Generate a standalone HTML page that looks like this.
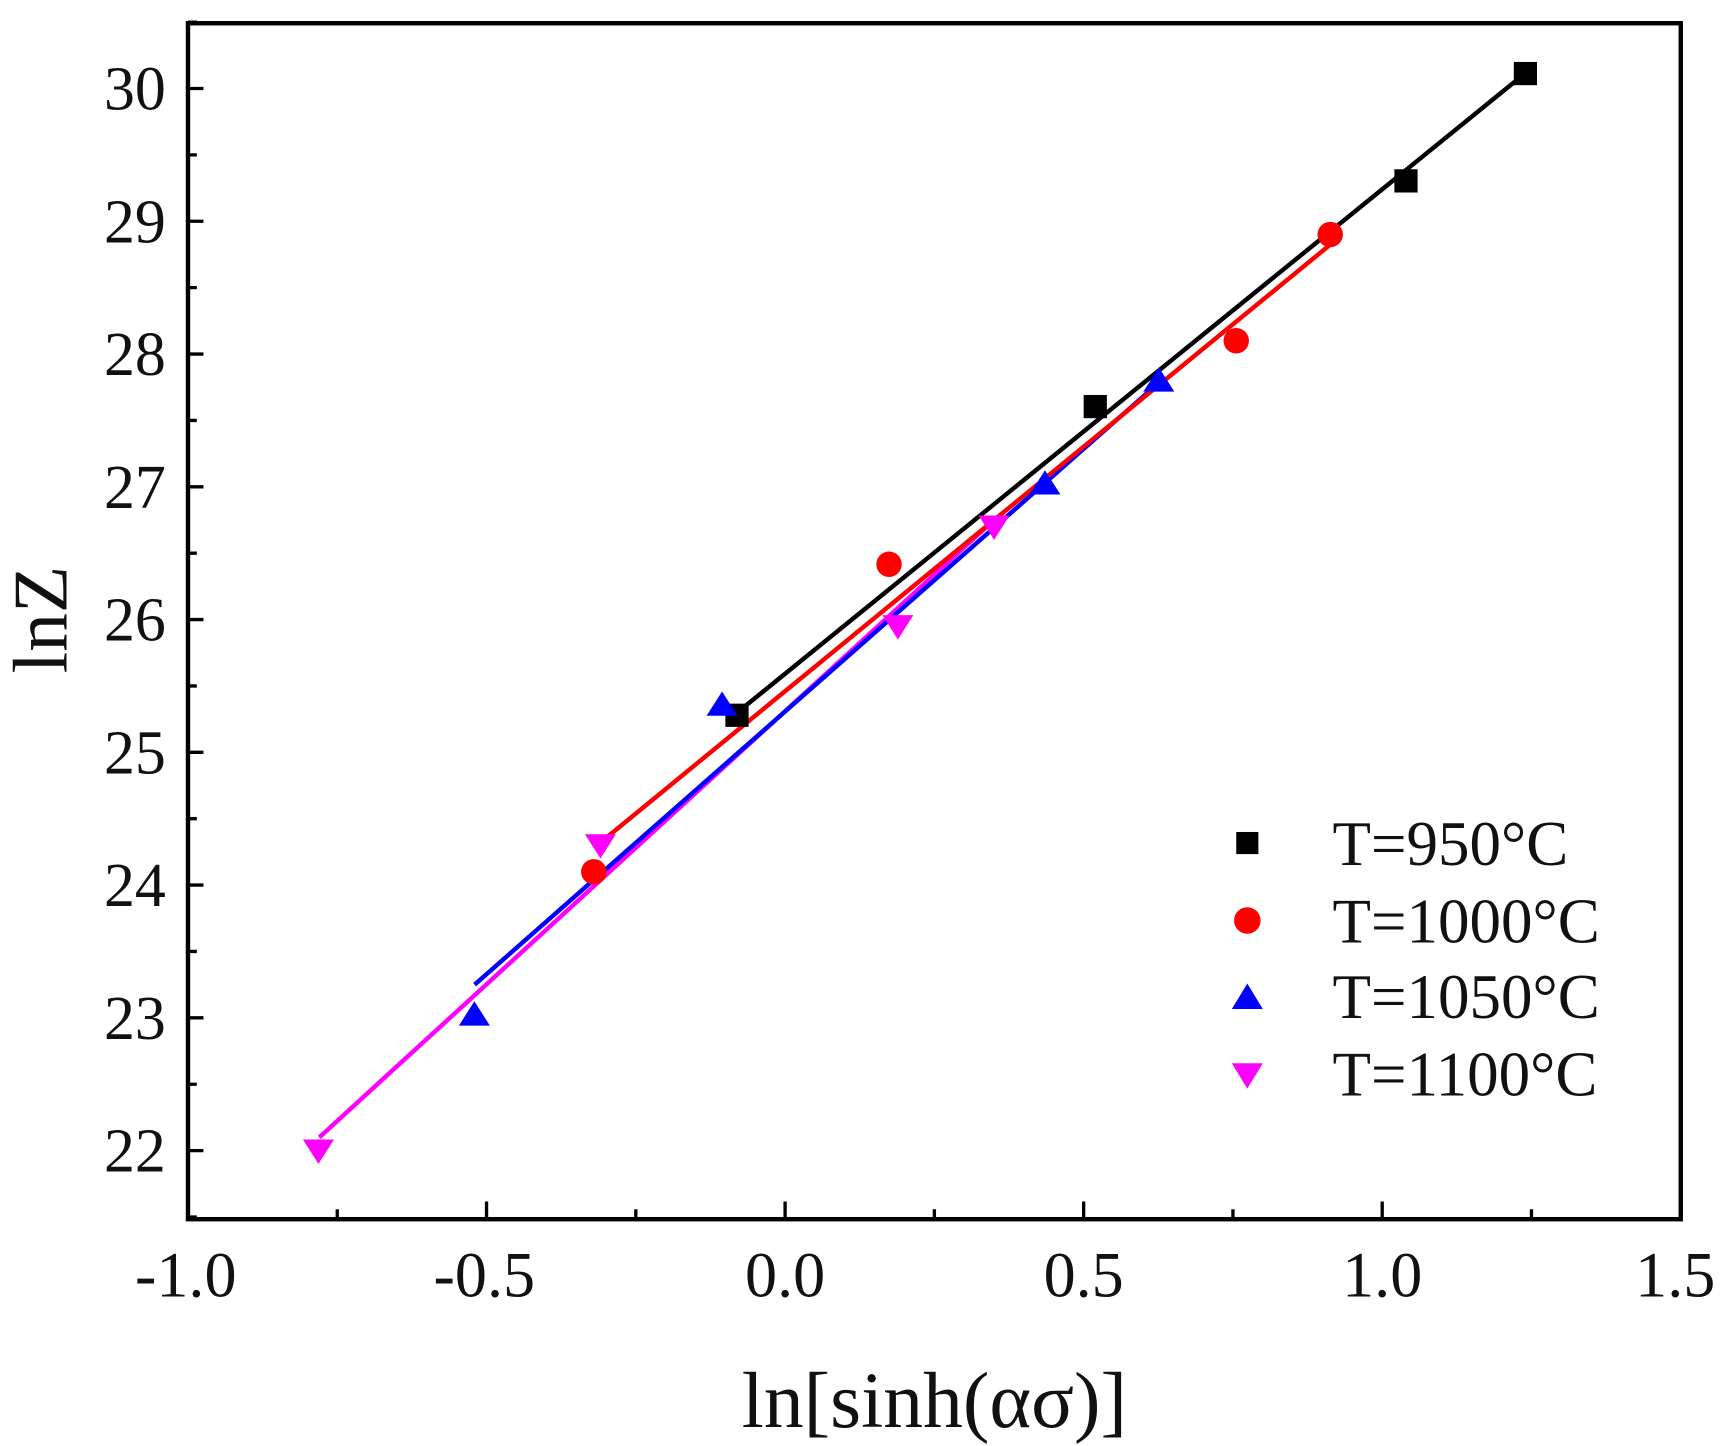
<!DOCTYPE html>
<html><head><meta charset="utf-8"><style>html,body{margin:0;padding:0;background:#fff}svg{display:block}</style></head>
<body>
<svg width="1725" height="1446" viewBox="0 0 1560 1307" preserveAspectRatio="none" xmlns="http://www.w3.org/2000/svg" font-family="'Liberation Serif', serif">
<rect width="1560" height="1307" fill="#fff"/>
<g stroke="#000" stroke-width="3">
<path d="M170 80h14M170 200h14M170 320h14M170 440h14M170 560h14M170 680h14M170 800h14M170 920h14M170 1040h14"/>
<path d="M170 140h8M170 260h8M170 380h8M170 500h8M170 620h8M170 740h8M170 860h8M170 980h8M170 1100h8M170 20h8"/>
<path d="M440 1102v-16M710 1102v-16M980 1102v-16M1250 1102v-16"/>
<path d="M305 1102v-9M575 1102v-9M845 1102v-9M1115 1102v-9M1385 1102v-9"/>
</g>
<rect x="170" y="21" width="1350" height="1081" fill="none" stroke="#000" stroke-width="4"/>
<g font-size="56" text-anchor="end" fill="#111">
<text x="150" y="99">30</text><text x="150" y="219">29</text><text x="150" y="339">28</text>
<text x="150" y="459">27</text><text x="150" y="579">26</text><text x="150" y="699">25</text>
<text x="150" y="819">24</text><text x="150" y="939">23</text><text x="150" y="1059">22</text>
</g>
<g font-size="58" text-anchor="middle" fill="#111">
<text x="168" y="1172">-1.0</text><text x="438" y="1172">-0.5</text><text x="710" y="1172">0.0</text>
<text x="980" y="1172">0.5</text><text x="1250" y="1172">1.0</text><text x="1515" y="1172">1.5</text>
</g>
<text x="845" y="1290" font-size="72" text-anchor="middle" fill="#111">ln[sinh(ασ)]</text>
<text transform="translate(60,560) rotate(-90)" font-size="70" text-anchor="middle" fill="#111">lnZ</text>
<g stroke-width="4" fill="none">
<line x1="288.8" y1="1028" x2="899" y2="470" stroke="#f0f"/>
<line x1="429.2" y1="890" x2="1050.2" y2="344" stroke="#00f"/>
<line x1="540" y1="764" x2="1206.8" y2="218" stroke="#f00"/>
<line x1="666.8" y1="644" x2="1379.6" y2="66" stroke="#000"/>
</g>
<g fill="#000">
<rect x="656" y="636" width="21" height="21"/><rect x="980" y="357" width="21" height="21"/>
<rect x="1261" y="153" width="21" height="21"/><rect x="1369" y="56" width="21" height="21"/>
</g>
<g fill="#f00">
<circle cx="537" cy="788" r="11.5"/><circle cx="804" cy="510" r="11.5"/>
<circle cx="1118" cy="308" r="11.5"/><circle cx="1203" cy="212" r="11.5"/>
</g>
<g fill="#00f">
<path d="M429 905l-14 22h28z"/><path d="M653 625l-14 22h28z"/>
<path d="M945 425l-14 22h28z"/><path d="M1048 332l-14 22h28z"/>
</g>
<g fill="#f0f">
<path d="M288 1052l-14 -22h28z"/><path d="M543 776l-14 -22h28z"/>
<path d="M812 578l-14 -22h28z"/><path d="M899 488l-14 -22h28z"/>
</g>
<rect x="1118" y="752" width="20" height="20" fill="#000"/>
<circle cx="1128" cy="832" r="12" fill="#f00"/>
<path d="M1128 889l-14 23h28z" fill="#00f"/>
<path d="M1128 984l-14 -23h28z" fill="#f0f"/>
<g font-size="57" fill="#111">
<text x="1205" y="782">T=950°C</text>
<text x="1205" y="852">T=1000°C</text>
<text x="1205" y="920">T=1050°C</text>
<text x="1205" y="990">T=1100°C</text>
</g>
</svg>
</body></html>
